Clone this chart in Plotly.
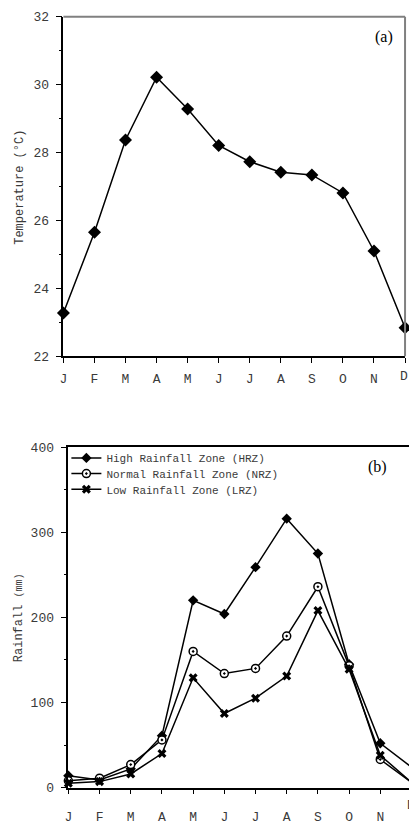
import plotly.graph_objects as go

months = ["J", "F", "M", "A", "M", "J", "J", "A", "S", "O", "N", "D"]
temperature = [23.27, 25.65, 28.37, 30.22, 29.28, 28.21, 27.73, 27.42, 27.34, 26.81, 25.10, 22.84]

series_names = ["High Rainfall Zone (HRZ)", "Normal Rainfall Zone (NRZ)", "Low Rainfall Zone (LRZ)"]
hrz = [14, 9, 22, 61, 220, 204, 259, 316, 275, 145, 52, 24]
nrz = [8, 11, 27, 56, 160, 134, 140, 178, 236, 143, 33, 6]
lrz = [5, 7, 16, 40, 129, 87, 105, 131, 208, 139, 38, 6]

x_idx = list(range(len(months)))

W, H = 409, 825
FONT = "Liberation Mono, Courier New, monospace"
TXT = "#3a3a3a"

def px_x(p):
    return p / W

def px_y(p):
    return 1 - p / H

fig = go.Figure()

# Panel (a)
fig.add_trace(go.Scatter(
    x=x_idx, y=temperature, mode="lines+markers", showlegend=False,
    line=dict(color="black", width=1.5),
    marker=dict(symbol="diamond", size=10, color="black"),
    cliponaxis=False, xaxis="x", yaxis="y"))

# Panel (b)
styles = [
    dict(symbol="diamond", size=8, color="black", line=dict(color="black", width=0)),
    dict(symbol="circle-dot", size=8, color="white", line=dict(color="black", width=1.5)),
    dict(symbol="x", size=8, color="black", line=dict(width=0)),
]
legend_ids = ["legend", "legend2", "legend3"]
for name, vals, mk, lg in zip(series_names, [hrz, nrz, lrz], styles, legend_ids):
    fig.add_trace(go.Scatter(
        x=x_idx, y=vals, mode="lines+markers", name=name, legend=lg,
        line=dict(color="black", width=1.5), marker=mk,
        cliponaxis=False, xaxis="x2", yaxis="y2"))

tickfont = dict(family=FONT, size=13, color=TXT)

def legend_at(row_y):
    return dict(x=px_x(63), y=px_y(row_y), xanchor="left", yanchor="middle",
                bgcolor="rgba(0,0,0,0)", font=dict(family=FONT, size=11, color=TXT),
                itemwidth=30)

fig.update_layout(
    width=W, height=H,
    margin=dict(l=0, r=0, t=0, b=0),
    paper_bgcolor="white", plot_bgcolor="white",
    showlegend=True,
    xaxis=dict(domain=[px_x(60), px_x(405)], range=[0, 11], tickvals=x_idx, ticktext=months,
               showgrid=False, zeroline=False, showline=True, linecolor="black", linewidth=1.5,
               ticks="outside", ticklen=5, tickcolor="black", tickwidth=1.2, tickfont=tickfont,
               anchor="y", ticklabelstandoff=4),
    yaxis=dict(domain=[px_y(358), px_y(11)], range=[22, 32], tickvals=[22, 24, 26, 28, 30, 32],
               showgrid=False, zeroline=False, showline=True, linecolor="black", linewidth=1.5,
               ticks="outside", ticklen=6, tickcolor="black", tickwidth=1.2, tickfont=tickfont,
               minor=dict(dtick=1, ticks="outside", ticklen=3, tickcolor="black", showgrid=False),
               anchor="x", ticklabelstandoff=4),
    xaxis2=dict(domain=[px_x(65), 1.0], range=[0, (409 - 65) / 31.5], tickvals=x_idx, ticktext=months,
                showgrid=False, zeroline=False, showline=True, linecolor="black", linewidth=1.5,
                mirror=True,
                ticks="outside", ticklen=5, tickcolor="black", tickwidth=1.2, tickfont=tickfont,
                anchor="y2", ticklabelstandoff=11),
    yaxis2=dict(domain=[px_y(799), px_y(451)], range=[0, 400], tickvals=[0, 100, 200, 300, 400],
                showgrid=False, zeroline=False, showline=True, linecolor="black", linewidth=1.5,
                ticks="outside", ticklen=6, tickcolor="black", tickwidth=1.2, tickfont=tickfont,
                minor=dict(dtick=50, ticks="outside", ticklen=3, tickcolor="black", showgrid=False),
                anchor="x2", ticklabelstandoff=4),
    legend=legend_at(462),
    legend2=legend_at(478),
    legend3=legend_at(494),
    shapes=[
        dict(type="line", xref="x domain", yref="y domain", x0=0, x1=1, y0=1, y1=1,
             line=dict(color="#808080", width=2)),
        dict(type="line", xref="x domain", yref="y domain", x0=1, x1=1, y0=0, y1=1,
             line=dict(color="#808080", width=2)),
    ],
    annotations=[
        dict(text="(a)", xref="paper", yref="paper", x=px_x(384), y=px_y(32), showarrow=False,
             xanchor="center", yanchor="middle",
             font=dict(family="Liberation Serif, Times New Roman, serif", size=16, color="black")),
        dict(text="(b)", xref="paper", yref="paper", x=px_x(377), y=px_y(471), showarrow=False,
             xanchor="center", yanchor="middle",
             font=dict(family="Liberation Serif, Times New Roman, serif", size=16, color="black")),
        dict(text="Temperature (°C)", xref="paper", yref="paper", x=px_x(16), y=px_y(185),
             xanchor="center", yanchor="middle",
             textangle=-90, showarrow=False, font=dict(family=FONT, size=12, color=TXT)),
        dict(text="Rainfall <span style='font-size:10px'>(mm)</span>", xref="paper", yref="paper",
             x=px_x(16), y=px_y(625), xanchor="center", yanchor="middle",
             textangle=-90, showarrow=False,
             font=dict(family=FONT, size=12, color=TXT)),
        dict(text="D", xref="paper", yref="paper", x=px_x(404), y=px_y(379), showarrow=False,
             xanchor="center", yanchor="middle", font=tickfont),
        dict(text="D", xref="paper", yref="paper", x=px_x(411.5), y=px_y(817), showarrow=False,
             xanchor="center", yanchor="middle", font=tickfont),
    ],
)

fig.write_html("out.html")
